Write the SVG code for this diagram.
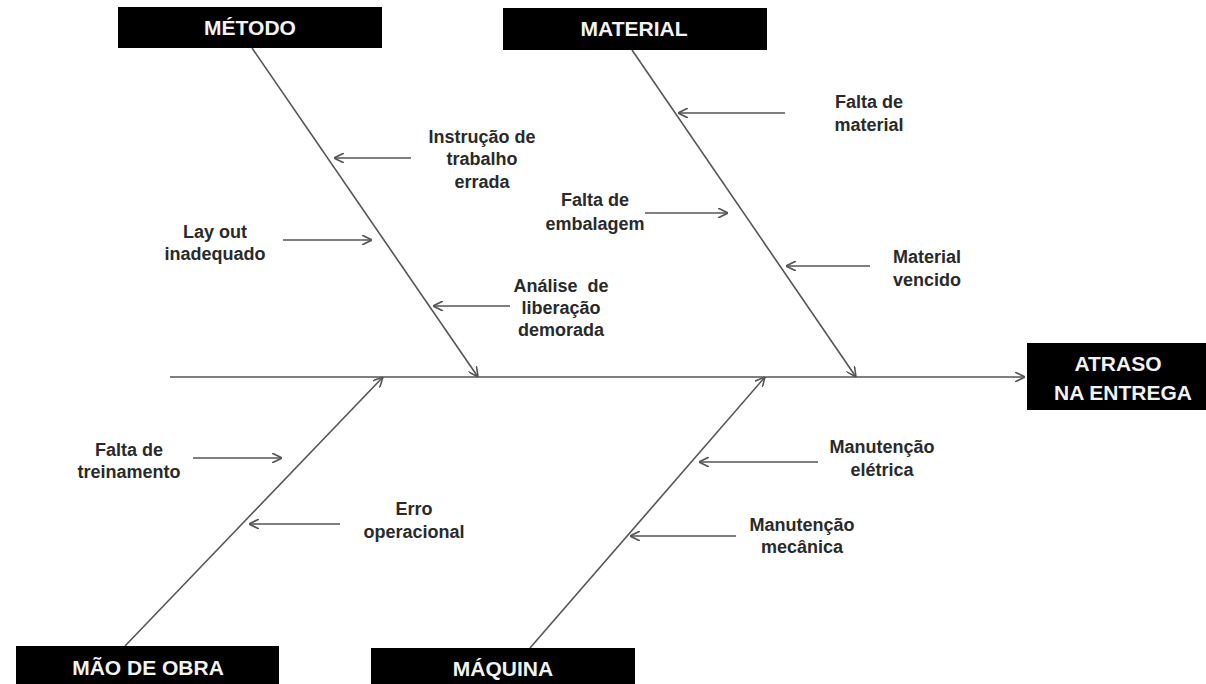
<svg xmlns="http://www.w3.org/2000/svg" width="1206" height="684" viewBox="0 0 1206 684">
<style>
.box{fill:#000;}
.bt{font-family:"Liberation Sans",Arial,sans-serif;font-weight:bold;font-size:21px;fill:#f2f2f2;text-anchor:middle;}
.lb{font-family:"Liberation Sans",Arial,sans-serif;font-weight:bold;font-size:18px;fill:#2a2a2a;text-anchor:middle;}
.ln{stroke:#555;stroke-width:1.6;fill:none;}
</style>
<defs>
<marker id="ah" viewBox="0 0 10 10" refX="10" refY="5" markerWidth="10" markerHeight="10" markerUnits="userSpaceOnUse" orient="auto">
<path d="M0,0 L10,5 L0,10" fill="none" stroke="#555" stroke-width="1.6"/>
</marker>
</defs>
<rect width="1206" height="684" fill="#fff"/>
<g id="connectors">
<line class="ln" x1="170" y1="377" x2="1025" y2="377" marker-end="url(#ah)"/>
<line class="ln" x1="252" y1="48" x2="478" y2="377" marker-end="url(#ah)"/>
<line class="ln" x1="632" y1="50" x2="856" y2="377" marker-end="url(#ah)"/>
<line class="ln" x1="125" y1="646" x2="383" y2="377" marker-end="url(#ah)"/>
<line class="ln" x1="530" y1="648" x2="765" y2="377" marker-end="url(#ah)"/>
<line class="ln" x1="411" y1="158" x2="334" y2="158" marker-end="url(#ah)"/>
<line class="ln" x1="283" y1="240" x2="372" y2="240" marker-end="url(#ah)"/>
<line class="ln" x1="510" y1="306" x2="433" y2="306" marker-end="url(#ah)"/>
<line class="ln" x1="785" y1="113" x2="678" y2="113" marker-end="url(#ah)"/>
<line class="ln" x1="645" y1="213" x2="728" y2="213" marker-end="url(#ah)"/>
<line class="ln" x1="870" y1="266" x2="786" y2="266" marker-end="url(#ah)"/>
<line class="ln" x1="193" y1="458" x2="282" y2="458" marker-end="url(#ah)"/>
<line class="ln" x1="340" y1="524" x2="249" y2="524" marker-end="url(#ah)"/>
<line class="ln" x1="818" y1="462" x2="699" y2="462" marker-end="url(#ah)"/>
<line class="ln" x1="736" y1="536" x2="630" y2="536" marker-end="url(#ah)"/>
</g>
<g id="metodo"><rect class="box" x="118" y="7" width="264" height="41"/><text class="bt" x="250" y="35">MÉTODO</text></g>
<g id="material"><rect class="box" x="503" y="8" width="264" height="42"/><text class="bt" x="634" y="36">MATERIAL</text></g>
<g id="atraso"><rect class="box" x="1027" y="343" width="179" height="67"/><text class="bt" x="1118" y="371">ATRASO</text><text class="bt" x="1123" y="400">NA ENTREGA</text></g>
<g id="maodeobra"><rect class="box" x="16" y="646" width="263" height="38"/><text class="bt" x="148" y="675">MÃO DE OBRA</text></g>
<g id="maquina"><rect class="box" x="371" y="648" width="264" height="36"/><text class="bt" x="503" y="676">MÁQUINA</text></g>
<g id="instrucao"><text class="lb" x="482" y="143">Instrução de</text><text class="lb" x="482" y="165">trabalho</text><text class="lb" x="482" y="188">errada</text></g>
<g id="layout"><text class="lb" x="215" y="238">Lay out</text><text class="lb" x="215" y="260">inadequado</text></g>
<g id="analise"><text class="lb" x="561" y="292" xml:space="preserve">Análise  de</text><text class="lb" x="561" y="314">liberação</text><text class="lb" x="561" y="336">demorada</text></g>
<g id="faltamaterial"><text class="lb" x="869" y="108">Falta de</text><text class="lb" x="869" y="131">material</text></g>
<g id="embalagem"><text class="lb" x="595" y="206">Falta de</text><text class="lb" x="595" y="230">embalagem</text></g>
<g id="vencido"><text class="lb" x="927" y="263">Material</text><text class="lb" x="927" y="286">vencido</text></g>
<g id="treinamento"><text class="lb" x="129" y="456">Falta de</text><text class="lb" x="129" y="478">treinamento</text></g>
<g id="erro"><text class="lb" x="414" y="515">Erro</text><text class="lb" x="414" y="538">operacional</text></g>
<g id="eletrica"><text class="lb" x="882" y="453">Manutenção</text><text class="lb" x="882" y="476">elétrica</text></g>
<g id="mecanica"><text class="lb" x="802" y="531">Manutenção</text><text class="lb" x="802" y="553">mecânica</text></g>
</svg>
